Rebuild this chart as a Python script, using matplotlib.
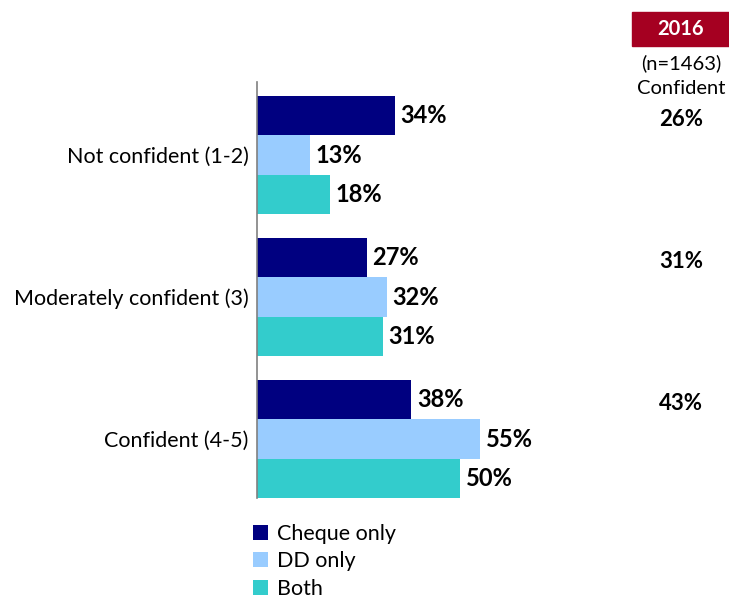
import matplotlib.pyplot as plt
import numpy as np
from matplotlib.patches import Rectangle

# data
categories = ['Not confident (1-2)', 'Moderately confident (3)', 'Confident (4-5)']
series = ['Cheque only', 'DD only', 'Both']
cheque = [34, 27, 38]
dd = [13, 32, 55]
both = [18, 31, 50]
values_2016 = [26, 31, 43]

colors = ['#000080', '#99CCFF', '#33CCCC']

plt.rcParams['font.family'] = ['Lato', 'DejaVu Sans']

fig = plt.figure(figsize=(7.29, 6.0), dpi=100)
ax = fig.add_axes([257 / 729, 1 - 498 / 600, 406 / 729, (498 - 82) / 600])

bar_h = 0.278
y = np.arange(len(categories))
for i, (vals, col, name) in enumerate(zip([cheque, dd, both], colors, series)):
    pos = y + (i - 1) * bar_h
    ax.barh(pos, vals, height=bar_h, color=col, label=name)
    for p, v in zip(pos, vals):
        ax.text(v + 1.4, p, f'{v}%', va='center', ha='left',
                fontsize=17, fontweight='bold', color='black')

ax.set_xlim(0, 100)
ax.set_ylim(2.415, -0.514)
ax.set_yticks(y)
ax.set_yticklabels(categories, fontsize=15.5)
ax.tick_params(axis='y', length=0, pad=6)
ax.set_xticks([])
for s in ['top', 'right', 'bottom']:
    ax.spines[s].set_visible(False)
ax.spines['left'].set_color('#808080')
ax.spines['left'].set_linewidth(1.2)

# 2016 column on the right
fig.patches.append(Rectangle((632 / 729, 1 - 46 / 600), 97 / 729, 34 / 600,
                             transform=fig.transFigure, color='#A50021', zorder=0))
fig.text(681 / 729, 1 - 29 / 600, '2016', ha='center', va='center',
         fontsize=14.5, fontweight='bold', color='white')
fig.text(681 / 729, 1 - 63 / 600, '(n=1463)', ha='center', va='center', fontsize=14.5)
fig.text(681 / 729, 1 - 88 / 600, 'Confident', ha='center', va='center', fontsize=14.5)
for p, v in zip(y - bar_h, values_2016):
    yfig = (ax.transData.transform((0, p))[1] - 4) / fig.dpi / 6.0
    fig.text(681 / 729, yfig, f'{v}%', ha='center', va='center',
             fontsize=16, fontweight='bold')

# legend
fig.legend(loc='upper left', bbox_to_anchor=(244 / 729, 1 - 515 / 600),
           frameon=False, fontsize=15.5, handlelength=0.7, handleheight=0.7,
           handletextpad=0.45, labelspacing=0.36, borderaxespad=0)

fig.savefig('out.png', dpi=100)
